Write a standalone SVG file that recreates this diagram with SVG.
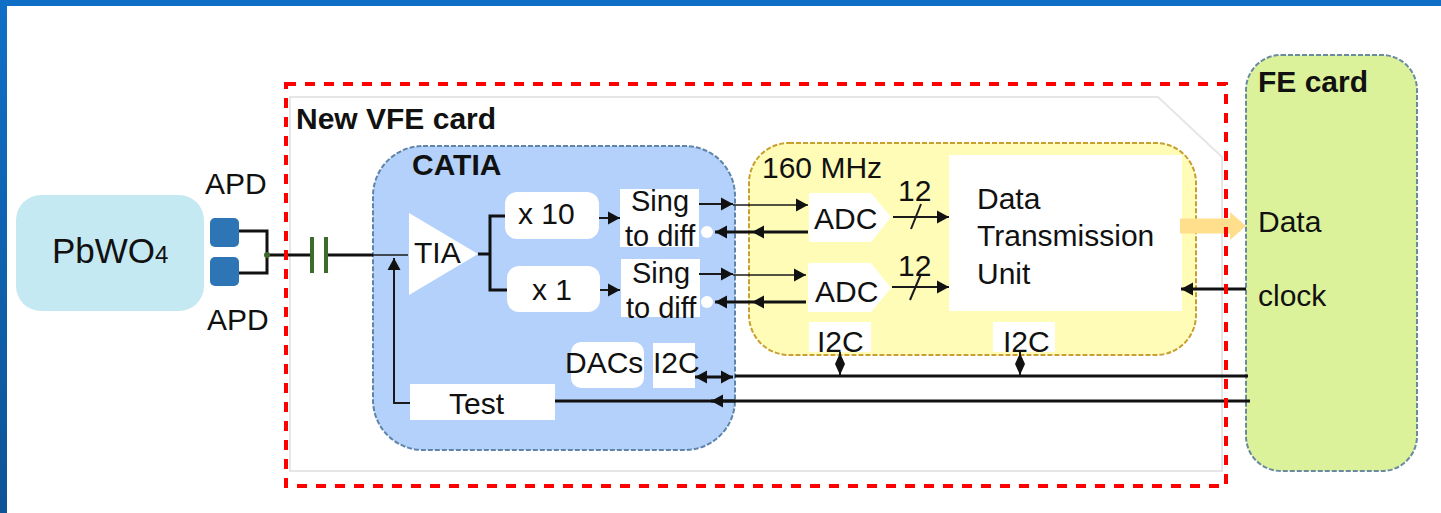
<svg xmlns="http://www.w3.org/2000/svg" width="1441" height="513" viewBox="0 0 1441 513">
<style>
text{font-family:"Liberation Sans",Arial,sans-serif;fill:#111;font-size:30px}
.b{font-weight:bold}
.w{fill:#fff;stroke:none}
.l{fill:none;stroke:#1a1a1a;stroke-width:2}
.f{fill:none;stroke:#1a1a1a;stroke-width:1.500}
.t{fill:none;stroke:#111;stroke-width:3}
.s{font-size:29px}
</style>
<defs>
<linearGradient id="fr" x1="0" y1="0" x2="0" y2="1"><stop offset="0" stop-color="#0f6fc6"/><stop offset="1" stop-color="#0d5496"/></linearGradient>
<marker id="a" markerUnits="userSpaceOnUse" markerWidth="14" markerHeight="14" refX="12" refY="7" orient="auto-start-reverse"><path d="M0 0.500L12 7L0 13.500Z" fill="#111"/></marker>
</defs>
<rect width="1441" height="513" fill="#fff"/>
<path d="M0 0H1441V6H7V513H0Z" fill="url(#fr)"/>

<g id="vfe-card">
<path d="M290 97H1158L1222 157V471H290Z" fill="#fff" stroke="#e6e6e6" stroke-width="2"/>
<text class="b" x="296" y="129">New VFE card</text>
</g>
<g id="pbwo4">
<rect x="16" y="195" width="188" height="116" rx="25" fill="#c5e9f3"/>
<text x="52" y="263" style="font-size:35px">PbWO<tspan style="font-size:24px">4</tspan></text>
</g>
<g id="apd-top">
<rect x="210" y="218" width="29" height="29" rx="5" fill="#2e75b6"/>
<text x="205" y="194">APD</text>
</g>
<g id="apd-bottom">
<rect x="210" y="257" width="29" height="29" rx="5" fill="#2e75b6"/>
<text x="207" y="330">APD</text>
</g>
<g id="catia">
<rect x="373" y="146" width="362" height="304" rx="50" fill="#b3d1fb" stroke="#5f86a8" stroke-width="2" stroke-dasharray="5 2"/>
<text class="b" x="412" y="175">CATIA</text>
</g>
<g id="tia"><path d="M409 213L478 254L409 295Z" class="w"/><text x="414" y="263">TIA</text></g>
<g id="x10"><rect x="505" y="192" width="94" height="47" rx="12" class="w"/><text x="518" y="224">x 10</text></g>
<g id="x1"><rect x="507" y="266" width="93" height="46" rx="12" class="w"/><text x="532" y="300">x 1</text></g>
<g id="sing1"><rect x="620" y="189" width="79" height="58" class="w"/><text class="s" x="631" y="211">Sing</text><text class="s" x="625" y="246">to diff</text><circle cx="707" cy="232" r="6" class="w"/></g>
<g id="sing2"><rect x="621" y="259" width="79" height="58" class="w"/><text class="s" x="632" y="283">Sing</text><text class="s" x="626" y="318">to diff</text><circle cx="707" cy="302" r="6" class="w"/></g>
<g id="dacs"><rect x="571" y="342" width="73" height="46" rx="10" class="w"/><text x="565" y="373">DACs</text></g>
<g id="i2c-catia"><rect x="653" y="343" width="42" height="45" class="w"/><text x="653" y="373">I2C</text></g>
<g id="test"><rect x="410" y="384" width="145" height="36" class="w"/><text x="449" y="414">Test</text></g>
<g id="adc-domain">
<rect x="749" y="143" width="447" height="212" rx="40" fill="#fffcb8" stroke="#c9a030" stroke-width="2" stroke-dasharray="5 2"/>
<text x="762" y="178">160 MHz</text>
</g>
<g id="adc1"><path d="M809 193H871L891 217L871 242H809Z" class="w"/><text x="814" y="229">ADC</text></g>
<g id="adc2"><path d="M808 263H871L891 288L871 312H808Z" class="w"/><text x="815" y="302">ADC</text></g>
<g id="i2c-adc"><rect x="809" y="322" width="62" height="30" class="w"/><text x="817" y="352">I2C</text></g>
<g id="i2c-dtu"><rect x="993" y="322" width="62" height="30" class="w"/><text x="1003" y="352">I2C</text></g>
<g id="dtu"><rect x="949" y="155" width="233" height="156" class="w"/><text><tspan x="977" y="209">Data</tspan><tspan x="977" y="246">Transmission</tspan><tspan x="977" y="284">Unit</tspan></text></g>
<g id="fe-card">
<rect x="1246" y="55" width="171" height="416" rx="35" fill="#dcf29a" stroke="#6a8aa0" stroke-width="2" stroke-dasharray="5 2"/>
<text class="b" x="1258" y="92">FE card</text>
<text x="1258" y="232">Data</text>
<text x="1258" y="306">clock</text>
</g>
<g id="connectors">
<path d="M239 231H267V273H239" class="t"/>
<path d="M267 255H310M328 255H373" class="t"/>
<path d="M373 255H408" class="f"/>
<path d="M312 237V273M326 237V273" fill="none" stroke="#3d6b2d" stroke-width="4"/>
<circle cx="267" cy="255" r="3" fill="#3d6b2d"/>
<path d="M478 254H490M505 216H490V290H507" class="t"/>
<path d="M599 218H620" class="l" marker-end="url(#a)"/>
<path d="M600 290H620" class="l" marker-end="url(#a)"/>
<path d="M699 204H733" class="l" marker-end="url(#a)"/>
<path d="M733 205H808" class="f" marker-end="url(#a)"/>
<path d="M699 274H733" class="l" marker-end="url(#a)"/>
<path d="M733 275H806" class="f" marker-end="url(#a)"/>
<path d="M808 232H752" class="t" marker-end="url(#a)"/><path d="M752 232H715" class="t" marker-end="url(#a)"/>
<path d="M806 302H752" class="t" marker-end="url(#a)"/><path d="M752 302H715" class="t" marker-end="url(#a)"/>
<path d="M893 217H949" class="l" marker-end="url(#a)"/><path d="M911 229L921 204" class="l"/>
<path d="M892 287H949" class="l" marker-end="url(#a)"/><path d="M910 300L921 274" class="l"/>
<text x="898" y="201">12</text>
<text x="898" y="276">12</text>
<path d="M1180 226H1232" stroke="#ffdf8c" stroke-width="15" fill="none"/><path d="M1230 212L1246 226L1230 240Z" fill="#ffdf8c"/>
<path d="M1246 289H1181" class="t" marker-end="url(#a)"/>
<path d="M735 376H1248" class="t"/>
<path d="M695 377H733" class="t" marker-start="url(#a)" marker-end="url(#a)"/>
<path d="M840 352V376M1020 352V376" class="l"/>
<path d="M840 353L845 364L840 375L835 364ZM1020 353L1025 364L1020 375L1015 364Z" fill="#111"/>
<path d="M1250 401H555" class="t"/><path d="M735 401H711" class="t" marker-end="url(#a)"/>
<path d="M410 403H394V258" class="l" marker-end="url(#a)"/>
</g>
<rect id="new-vfe-outline" x="286" y="84" width="940" height="402" fill="none" stroke="#f00" stroke-width="4" stroke-dasharray="10 9"/>
</svg>
